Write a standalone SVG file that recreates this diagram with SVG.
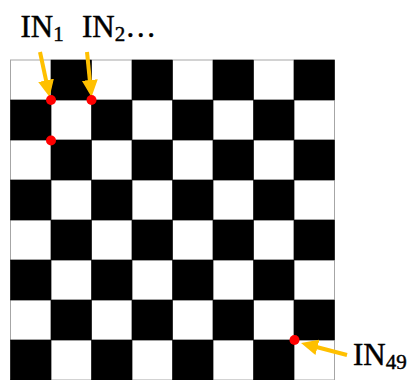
<svg xmlns="http://www.w3.org/2000/svg" width="411" height="380" viewBox="0 0 411 380">
<style>
.w{fill:#ffffff;stroke:#a6a6a6;stroke-width:1}
.g{stroke:#b0b0b0;stroke-width:1;fill:none}
.b{fill:#000000;stroke:#000000;stroke-width:0.5}
.dot{fill:#ff0000}
.arr{stroke:#FFC000;stroke-width:4;fill:none}
.t{font-family:"Liberation Serif","Times New Roman",serif;fill:#000000;stroke:#000000;stroke-width:0.45}
</style>
<defs>
<marker id="ah" markerWidth="18" markerHeight="16" refX="7" refY="8" orient="auto" markerUnits="userSpaceOnUse">
<path d="M0,0 L17,8 L0,16 z" fill="#FFC000"/>
</marker>
</defs>
<g id="board">
<rect class="w" x="10.5" y="60" width="324" height="320"/>
<path class="g" d="M51,60V380M91.5,60V380M132,60V380M172.5,60V380M213,60V380M253.5,60V380M294,60V380M10.5,100H334.5M10.5,140H334.5M10.5,180H334.5M10.5,220H334.5M10.5,260H334.5M10.5,300H334.5M10.5,340H334.5"/>
<!-- row 0 -->
<rect class="b" x="51" y="60" width="40.5" height="40"/><rect class="b" x="132" y="60" width="40.5" height="40"/><rect class="b" x="213" y="60" width="40.5" height="40"/><rect class="b" x="294" y="60" width="40.5" height="40"/>
<!-- row 1 -->
<rect class="b" x="10.5" y="100" width="40.5" height="40"/><rect class="b" x="91.5" y="100" width="40.5" height="40"/><rect class="b" x="172.5" y="100" width="40.5" height="40"/><rect class="b" x="253.5" y="100" width="40.5" height="40"/>
<!-- row 2 -->
<rect class="b" x="51" y="140" width="40.5" height="40"/><rect class="b" x="132" y="140" width="40.5" height="40"/><rect class="b" x="213" y="140" width="40.5" height="40"/><rect class="b" x="294" y="140" width="40.5" height="40"/>
<!-- row 3 -->
<rect class="b" x="10.5" y="180" width="40.5" height="40"/><rect class="b" x="91.5" y="180" width="40.5" height="40"/><rect class="b" x="172.5" y="180" width="40.5" height="40"/><rect class="b" x="253.5" y="180" width="40.5" height="40"/>
<!-- row 4 -->
<rect class="b" x="51" y="220" width="40.5" height="40"/><rect class="b" x="132" y="220" width="40.5" height="40"/><rect class="b" x="213" y="220" width="40.5" height="40"/><rect class="b" x="294" y="220" width="40.5" height="40"/>
<!-- row 5 -->
<rect class="b" x="10.5" y="260" width="40.5" height="40"/><rect class="b" x="91.5" y="260" width="40.5" height="40"/><rect class="b" x="172.5" y="260" width="40.5" height="40"/><rect class="b" x="253.5" y="260" width="40.5" height="40"/>
<!-- row 6 -->
<rect class="b" x="51" y="300" width="40.5" height="40"/><rect class="b" x="132" y="300" width="40.5" height="40"/><rect class="b" x="213" y="300" width="40.5" height="40"/><rect class="b" x="294" y="300" width="40.5" height="40"/>
<!-- row 7 -->
<rect class="b" x="10.5" y="340" width="40.5" height="40"/><rect class="b" x="91.5" y="340" width="40.5" height="40"/><rect class="b" x="172.5" y="340" width="40.5" height="40"/><rect class="b" x="253.5" y="340" width="40.5" height="40"/>
</g>
<g id="connectors">
<line class="arr" x1="40" y1="52" x2="47.5" y2="87.2" marker-end="url(#ah)"/>
<line class="arr" x1="87" y1="52" x2="90.5" y2="87" marker-end="url(#ah)"/>
<line class="arr" x1="347" y1="355" x2="310.7" y2="345.5" marker-end="url(#ah)"/>
</g>
<g id="in1">
<circle class="dot" cx="51" cy="100" r="5"/>
<text class="t" x="20.5" y="36.7" font-size="31">IN<tspan font-size="21" dy="4">1</tspan></text>
</g>
<g id="in2">
<circle class="dot" cx="91.5" cy="100" r="5"/>
<text class="t" x="82" y="36.7" font-size="31">IN<tspan font-size="21" dy="4">2</tspan><tspan dy="-4">…</tspan></text>
</g>
<g id="in3">
<circle class="dot" cx="51" cy="140.5" r="5"/>
</g>
<g id="in49">
<circle class="dot" cx="294.5" cy="340" r="5"/>
<text class="t" x="353" y="365" font-size="31">IN<tspan font-size="21" dy="4">49</tspan></text>
</g>
</svg>
